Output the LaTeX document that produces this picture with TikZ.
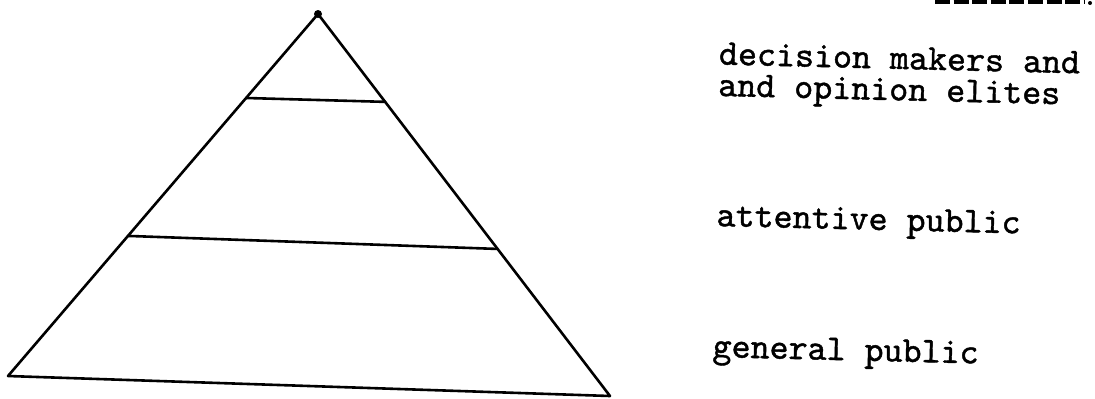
\documentclass[tikz,border=0pt]{standalone}
\usepackage{fontspec}
\usepackage{tikz}
\usetikzlibrary{calc, positioning}
\newfontfamily\typewriter{lmmono10-regular}[Extension=.otf, FakeBold=1.2]

\begin{document}
\begin{tikzpicture}[x=0.5pt, y=-0.5pt,
    edge/.style={line width=1.3pt, line cap=round, line join=round},
    layer/.style={font=\typewriter\fontsize{18.1}{15.7}\selectfont, anchor=base west, inner sep=0pt, rotate=-1.4}]
    % Canvas
    \useasboundingbox (0,0) rectangle (1095,398);

    % Pyramid corners
    \coordinate (apex) at (318,14);
    \coordinate (bl) at (8,376);
    \coordinate (br) at (610,396);
    \draw[edge] (apex) -- (bl) -- (br) -- cycle;
    \fill (apex) circle (4);

    % Layer dividers
    \coordinate (topL) at ($(apex)!0.232!(bl)$);
    \coordinate (topR) at ($(apex)!0.230!(br)$);
    \coordinate (midL) at ($(apex)!0.613!(bl)$);
    \coordinate (midR) at ($(apex)!0.615!(br)$);
    \draw[edge] (topL) -- (topR);
    \draw[edge] (midL) -- (midR);

    % Labels
    \node[layer, anchor=north west, align=left] (elite) at (719,42) {decision makers and\\and opinion elites};
    \node[layer] (attentive) at (716,226) {attentive public};
    \node[layer] (general) at (712,357) {general public};

    % Heading rule, cut at the top
    \draw[line width=2pt, dash pattern=on 7.5pt off 1.8pt] (935,2) -- (1084,2);
    \fill (1090,3) circle (2);
\end{tikzpicture}
\end{document}
